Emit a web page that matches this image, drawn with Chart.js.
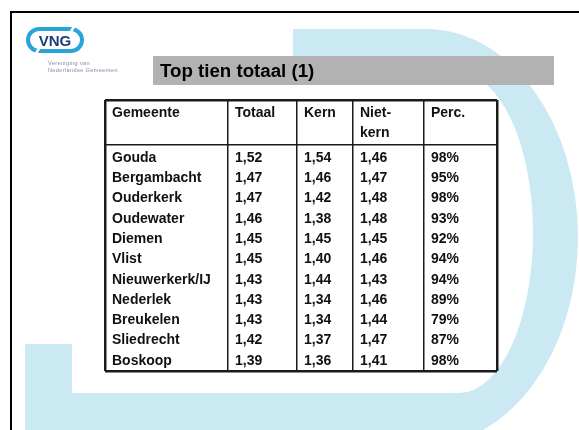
<!DOCTYPE html>
<html>
<head>
<meta charset="utf-8">
<script src="https://cdn.jsdelivr.net/npm/chart.js@4/dist/chart.umd.min.js"></script>
<style>
  body { margin: 0; background: #fff; }
  #slide { position: relative; width: 579px; height: 430px; overflow: hidden; background: #fff; font-family: "Liberation Sans", Arial, sans-serif; }
  #graphe { position: absolute; left: 0; top: 0; }
  #frame { position: absolute; left: 10px; top: 11px; width: 700px; height: 600px; border-left: 2px solid #000; border-top: 2px solid #000; }
  #logo { position: absolute; left: 26px; top: 27px; width: 58px; height: 26px; box-sizing: border-box; border: 4px solid #2aa4d8; border-radius: 13px; }
  #logo .gap1 { position: absolute; right: 6px; top: -5px; width: 3px; height: 6px; background: #fff; transform: skewX(-30deg); }
  #logo .gap2 { position: absolute; left: 6px; bottom: -5px; width: 3px; height: 6px; background: #fff; transform: skewX(-30deg); }
  #logo span { position: absolute; left: 0; right: 0; top: 2px; text-align: center; font-weight: bold; font-size: 15px; line-height: 15px; color: #1d3c78; }
  #caption { position: absolute; left: 48px; top: 60px; font-size: 5.5px; line-height: 7px; color: #7f8aa6; letter-spacing: 0.4px; }
  #titel { position: absolute; left: 153px; top: 56px; width: 401px; height: 29px; background: #b2b2b2; box-sizing: border-box; padding-left: 7px; font-weight: bold; font-size: 18.7px; line-height: 29px; color: #000; }
</style>
</head>
<body>
<div id="slide">
  <canvas id="graphe" width="579" height="430"></canvas>
  <div id="frame"></div>
  <div id="logo"><div class="gap1"></div><div class="gap2"></div><span>VNG</span></div>
  <div id="caption">Vereniging van<br>Nederlandse Gemeenten</div>
  <div id="titel">Top tien totaal (1)</div>
</div>
<script>
// Donnees du tableau
const gemeenten = ["Gouda", "Bergambacht", "Ouderkerk", "Oudewater", "Diemen", "Vlist", "Nieuwerkerk/IJ", "Nederlek", "Breukelen", "Sliedrecht", "Boskoop"];
const totaal = [1.52, 1.47, 1.47, 1.46, 1.45, 1.45, 1.43, 1.43, 1.43, 1.42, 1.39];
const kern = [1.54, 1.46, 1.42, 1.38, 1.45, 1.40, 1.44, 1.34, 1.34, 1.37, 1.36];
const nietKern = [1.46, 1.47, 1.48, 1.48, 1.45, 1.46, 1.43, 1.46, 1.44, 1.47, 1.41];
const perc = [98, 95, 98, 93, 92, 94, 94, 89, 79, 87, 98];
const koppen = [["Gemeente"], ["Totaal"], ["Kern"], ["Niet-", "kern"], ["Perc."]];

// Mise en page
const colEdges = [0, 123, 192, 248, 319, 392];
const textInset = 7;
const rowOffset = 0.65;
const headerLines = [-1.56, -0.57];
const yMin = -2.2, yMax = 11.15;

let komma = function(v) { return v.toFixed(2).replace(".", ","); };

let kolommen = [
    gemeenten,
    totaal.map(komma),
    kern.map(komma),
    nietKern.map(komma),
    perc.map(function(p) { return p + "%"; })
];

let datasets = [];
for (let c = 0; c < kolommen.length; c++) {
    datasets.push({
        label: koppen[c].join(""),
        data: kolommen[c].map(function(t, i) { return { x: colEdges[c] + textInset, y: i + rowOffset }; }),
        pointRadius: 0,
        showLine: false
    });
}

const fontCel = "bold 14px 'Liberation Sans', Arial, sans-serif";

// fond bleu (forme D)
const achtergrond = {
    id: "achtergrond",
    beforeDraw: function(chart) {
        let ctx = chart.ctx;
        ctx.save();
        ctx.beginPath();
        ctx.rect(12, 13, 600, 500);
        ctx.clip();
        ctx.fillStyle = "#cbe9f2";
        ctx.beginPath();
        ctx.moveTo(293, 29);
        ctx.lineTo(426, 29);
        ctx.ellipse(426, 237, 152, 208, 0, -Math.PI / 2, Math.PI / 2, false);
        ctx.lineTo(25, 445);
        ctx.lineTo(25, 344);
        ctx.lineTo(72, 344);
        ctx.lineTo(72, 393);
        ctx.lineTo(459, 393);
        ctx.ellipse(459, 233, 74, 160, 0, Math.PI / 2, -Math.PI / 2, true);
        ctx.lineTo(293, 73);
        ctx.closePath();
        ctx.fill();
        // fond blanc du tableau
        let a = chart.chartArea;
        ctx.fillStyle = "#fff";
        ctx.fillRect(a.left, a.top, a.right - a.left, a.bottom - a.top);
        ctx.restore();
    }
};

// texte des cellules
const cellen = {
    id: "cellen",
    afterDatasetsDraw: function(chart) {
        let ctx = chart.ctx;
        let xs = chart.scales.x, ys = chart.scales.y;
        ctx.save();
        ctx.font = fontCel;
        ctx.fillStyle = "#111";
        ctx.textBaseline = "middle";
        ctx.textAlign = "left";
        chart.data.datasets.forEach(function(ds, c) {
            let meta = chart.getDatasetMeta(c);
            meta.data.forEach(function(el, i) {
                ctx.fillText(kolommen[c][i], el.x, el.y);
            });
            koppen[c].forEach(function(regel, r) {
                ctx.fillText(regel, xs.getPixelForValue(colEdges[c] + textInset), ys.getPixelForValue(headerLines[r]));
            });
        });
        ctx.restore();
    }
};

let randX = function(v) { return (v === colEdges[0] || v === colEdges[colEdges.length - 1]) ? 2.5 : 1.5; };
let randY = function(v) { return (v === yMin || v === yMax) ? 2.5 : 1.5; };

new Chart(document.getElementById("graphe"), {
    type: "scatter",
    data: { datasets: datasets },
    plugins: [achtergrond, cellen],
    options: {
        responsive: false,
        animation: false,
        devicePixelRatio: 1,
        layout: { padding: { left: 105, top: 100, right: 82, bottom: 59 } },
        plugins: { legend: { display: false }, tooltip: { enabled: false } },
        events: [],
        scales: {
            x: {
                type: "linear",
                min: colEdges[0],
                max: colEdges[colEdges.length - 1],
                afterBuildTicks: function(scale) { scale.ticks = colEdges.map(function(v) { return { value: v }; }); },
                ticks: { display: false },
                border: { display: false },
                grid: {
                    drawTicks: false,
                    tickLength: 0,
                    color: "#1a1a1a",
                    lineWidth: function(ctx) { return ctx.tick ? randX(ctx.tick.value) : 1.5; }
                }
            },
            y: {
                type: "linear",
                reverse: true,
                min: yMin,
                max: yMax,
                afterBuildTicks: function(scale) { scale.ticks = [yMin, 0, yMax].map(function(v) { return { value: v }; }); },
                ticks: { display: false },
                border: { display: false },
                grid: {
                    drawTicks: false,
                    tickLength: 0,
                    color: "#1a1a1a",
                    lineWidth: function(ctx) { return ctx.tick ? randY(ctx.tick.value) : 1.5; }
                }
            }
        }
    }
});
</script>
</body>
</html>
